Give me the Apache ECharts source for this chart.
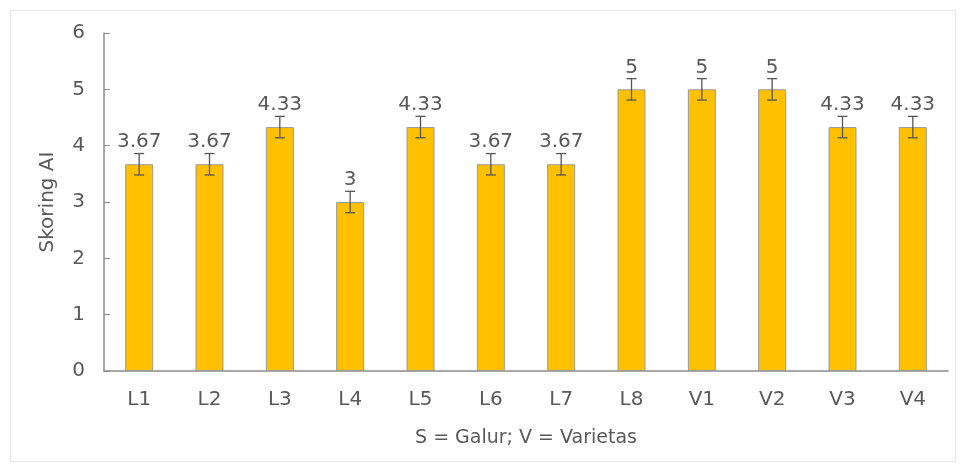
<!DOCTYPE html>
<html><head><meta charset="utf-8">
<script src="https://cdn.jsdelivr.net/npm/echarts@6/dist/echarts.min.js"></script>
<style>html,body{margin:0;padding:0;background:#fff}#c{width:965px;height:467px}
#frame{position:absolute;left:10px;top:10px;width:944px;height:450px;border:1px solid #e6e6e6;pointer-events:none}</style>
</head><body><div id="c"></div><div id="frame"></div>
<script>
const categories = ['L1','L2','L3','L4','L5','L6','L7','L8','V1','V2','V3','V4'];
const values = [3.67,3.67,4.33,3,4.33,3.67,3.67,5,5,5,4.33,4.33];
const errors = [0.19,0.19,0.19,0.19,0.19,0.19,0.19,0.19,0.19,0.19,0.19,0.19];
const yTicks = [0,1,2,3,4,5,6];

const chart = echarts.init(document.getElementById('c'));
const font = 'DejaVu Sans, sans-serif';
const txt = '#595959';
chart.setOption({
  animation:false,
  grid:{left:104,right:17,top:33,bottom:96},
  xAxis:{type:'category',data:categories,
    name:'S = Galur; V = Varietas',nameLocation:'middle',nameGap:58,
    nameTextStyle:{fontSize:19,color:txt,fontFamily:font},
    axisLine:{lineStyle:{color:'#8c8c8c',width:1.5}},
    axisTick:{inside:true,length:6,lineStyle:{color:'#8c8c8c'}},
    axisLabel:{fontSize:20,color:txt,fontFamily:font,margin:19}},
  yAxis:{type:'value',min:yTicks[0],max:yTicks[yTicks.length-1],interval:1,
    name:'Skoring AI',nameLocation:'middle',nameGap:46,
    nameTextStyle:{fontSize:20,color:txt,fontFamily:font},
    axisLine:{show:true,lineStyle:{color:'#8c8c8c',width:1.5}},
    axisTick:{show:true,inside:true,length:6,lineStyle:{color:'#8c8c8c'}},
    splitLine:{show:false},
    axisLabel:{fontSize:20,color:txt,fontFamily:font,margin:19}},
  series:[
    {type:'bar',data:values,barWidth:28,
     itemStyle:{color:'#FFC000',borderColor:'#9a9a9a',borderWidth:1},
     label:{show:true,position:'top',distance:12,fontSize:20,color:txt,fontFamily:font},
     z:2},
    {type:'custom',z:3,
     data:values.map((v,i)=>[i,v-errors[i],v+errors[i]]),
     renderItem:function(params,api){
       const lo=api.coord([api.value(0),api.value(1)]);
       const hi=api.coord([api.value(0),api.value(2)]);
       const w=5;const st={stroke:'#555',lineWidth:1.3};
       return {type:'group',children:[
         {type:'line',shape:{x1:lo[0],y1:lo[1],x2:hi[0],y2:hi[1]},style:st},
         {type:'line',shape:{x1:lo[0]-w,y1:lo[1],x2:lo[0]+w,y2:lo[1]},style:st},
         {type:'line',shape:{x1:hi[0]-w,y1:hi[1],x2:hi[0]+w,y2:hi[1]},style:st}
       ]};
     }}
  ]
});
</script></body></html>
